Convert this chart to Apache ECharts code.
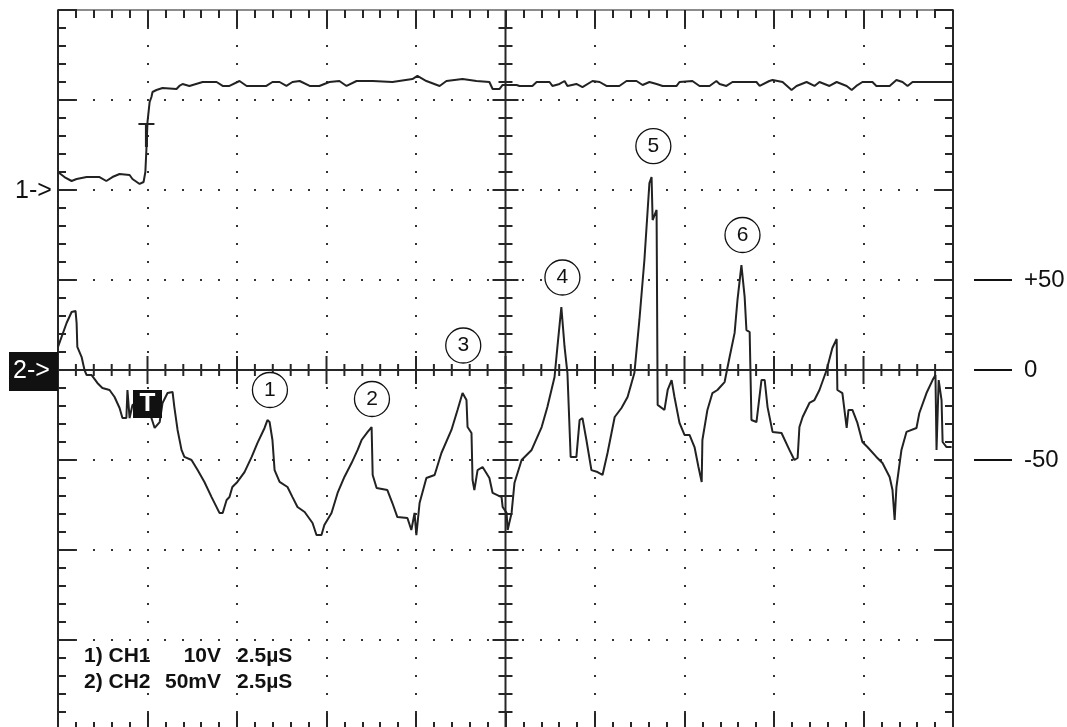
<!DOCTYPE html>
<html><head><meta charset="utf-8">
<script src="https://cdn.jsdelivr.net/npm/echarts@6/dist/echarts.min.js"></script>
<style>html,body{margin:0;padding:0;background:#fff}#c{width:1067px;height:727px}</style>
</head><body><div id="c"></div>
<script>
const FONT = '"Liberation Sans", Arial, Helvetica, sans-serif';

// Time axis (µs): 2.5 µs / div, trigger at t = 0
const timeMin = -2.5, timeMax = 22.5, timeDiv = 2.5;
// Channel 2 (mV): 50 mV / div, zero at screen centre
const ch2Min = -200, ch2Max = 200, ch2Div = 50;
// Channel 1 (V): 10 V / div, reference two divisions above centre
const ch1Min = -60, ch1Max = 20, ch1Div = 10;

// CH1 trace [t µs, V]
const ch1Trace = [[-2.5,2.0],[-2.32,1.44],[-2.12,1.0],[-1.98,1.22],[-1.70,1.44],[-1.34,1.44],[-1.15,1.0],[-0.98,1.44],[-0.78,1.78],[-0.50,1.67],[-0.42,1.22],[-0.22,0.67],[-0.11,0.89],[-0.06,2.0],[-0.03,4.56],[0,7.56],[0.06,9.78],[0.11,10.33],[0.14,10.89],[0.25,11.11],[0.42,11.33],[0.81,11.22],[0.89,11.56],[0.98,11.78],[1.17,11.56],[1.54,12.0],[1.93,12.0],[2.10,11.56],[2.29,11.56],[2.57,12.11],[2.77,11.56],[3.32,11.56],[3.49,12.0],[3.69,12.0],[3.88,11.56],[4.05,12.0],[4.25,12.11],[4.53,11.56],[4.80,11.56],[5.08,12.0],[5.36,12.11],[5.56,11.56],[5.84,12.11],[6.29,12.11],[6.84,12.0],[7.40,12.33],[7.54,12.67],[7.79,12.11],[8.16,11.56],[8.35,12.11],[8.80,12.33],[9.19,12.11],[9.55,12.0],[9.64,11.22],[9.83,11.22],[9.92,11.67],[10.31,11.67],[10.39,11.56],[10.75,11.56],[10.87,12.0],[11.23,12.0],[11.31,11.56],[11.51,11.78],[11.65,12.11],[11.73,11.56],[11.98,11.78],[12.15,11.44],[12.43,12.11],[12.63,12.0],[12.82,11.56],[13.18,11.56],[13.38,12.11],[13.66,12.11],[13.83,11.67],[14.02,12.0],[14.22,11.78],[14.39,11.56],[14.78,11.56],[14.86,12.0],[15.22,12.11],[15.42,11.56],[15.70,11.56],[15.89,12.11],[15.98,11.78],[16.17,11.56],[16.34,12.0],[17.01,12.0],[17.10,11.56],[17.37,12.11],[17.46,12.22],[17.74,12.0],[17.99,11.11],[18.13,11.56],[18.41,12.0],[18.63,11.56],[18.77,12.0],[19.05,11.56],[19.25,12.0],[19.53,11.56],[19.67,11.11],[19.80,11.56],[19.97,12.0],[20.25,12.0],[20.36,11.56],[20.73,11.56],[20.92,12.22],[21.09,12.0],[21.23,11.56],[21.37,12.0],[22.5,12.0]];

// CH2 trace [t µs, mV]
const ch2Trace = [[-2.5,12.8],[-2.26,26.1],[-2.12,32.2],[-2.01,32.8],[-1.98,26.1],[-1.96,12.8],[-1.84,7.2],[-1.76,0],[-1.70,-2.8],[-1.56,-2.8],[-1.40,-7.2],[-1.26,-10.0],[-1.06,-11.1],[-0.92,-15.0],[-0.78,-21.1],[-0.70,-26.7],[-0.59,-26.7],[-0.56,-11.1],[-0.50,-26.7],[-0.42,-19.4],[-0.08,-16.7],[0.11,-26.7],[0.20,-32.2],[0.34,-28.9],[0.42,-18.3],[0.56,-12.8],[0.70,-12.2],[0.75,-20.6],[0.84,-33.3],[0.95,-44.4],[1.03,-48.3],[1.23,-50.0],[1.40,-55.6],[1.59,-62.2],[1.79,-70.6],[2.01,-79.4],[2.10,-79.4],[2.21,-72.2],[2.29,-70.6],[2.37,-65.0],[2.51,-62.2],[2.71,-56.7],[2.91,-48.3],[3.07,-40.6],[3.27,-32.2],[3.35,-27.8],[3.41,-28.9],[3.49,-38.9],[3.55,-55.6],[3.69,-62.2],[3.91,-65.0],[4.05,-70.6],[4.19,-76.1],[4.39,-78.9],[4.61,-85.0],[4.72,-91.7],[4.86,-91.7],[4.94,-86.1],[5.14,-79.4],[5.31,-68.3],[5.50,-59.4],[5.70,-51.7],[5.87,-44.4],[5.98,-38.9],[6.15,-34.4],[6.26,-31.7],[6.29,-58.3],[6.40,-65.6],[6.70,-66.7],[6.84,-73.9],[6.98,-81.7],[7.26,-82.2],[7.37,-88.9],[7.46,-79.4],[7.51,-91.7],[7.60,-73.9],[7.79,-60.0],[8.02,-58.3],[8.21,-46.1],[8.49,-33.3],[8.66,-22.2],[8.80,-12.8],[8.91,-16.7],[8.94,-31.7],[9.05,-35.0],[9.08,-61.1],[9.13,-66.7],[9.22,-55.6],[9.36,-53.9],[9.55,-60.0],[9.64,-68.3],[9.89,-70.6],[9.92,-76.1],[10.03,-79.4],[10.06,-88.9],[10.17,-79.4],[10.25,-62.8],[10.45,-50.0],[10.73,-44.4],[11.01,-31.7],[11.17,-20.6],[11.37,-3.9],[11.45,12.8],[11.56,35.0],[11.65,12.8],[11.73,-1.7],[11.82,-48.3],[11.98,-48.3],[12.07,-27.8],[12.15,-26.7],[12.26,-38.9],[12.40,-55.6],[12.57,-56.7],[12.71,-58.3],[12.85,-46.1],[13.05,-26.1],[13.24,-21.1],[13.41,-15.0],[13.60,-1.7],[13.74,27.8],[13.88,61.1],[14.02,103.9],[14.08,107.2],[14.11,83.3],[14.22,88.9],[14.25,-19.4],[14.44,-22.2],[14.53,-11.1],[14.64,-5.6],[14.72,-15.0],[14.86,-29.4],[15.00,-36.1],[15.14,-36.1],[15.28,-42.8],[15.39,-53.9],[15.48,-62.2],[15.50,-38.9],[15.64,-22.2],[15.78,-12.8],[15.92,-11.1],[16.12,-6.7],[16.26,7.2],[16.40,20.6],[16.48,38.9],[16.59,58.3],[16.68,40.6],[16.73,22.2],[16.82,21.1],[16.87,-27.8],[17.01,-28.9],[17.15,-5.6],[17.24,-5.6],[17.32,-20.6],[17.46,-34.4],[17.71,-35.0],[17.93,-44.4],[18.07,-50.0],[18.16,-48.9],[18.21,-31.7],[18.30,-26.1],[18.49,-18.3],[18.63,-16.7],[18.77,-11.1],[18.97,0],[19.13,12.2],[19.25,17.2],[19.27,-11.1],[19.41,-12.8],[19.53,-32.2],[19.58,-22.2],[19.69,-22.2],[19.83,-29.4],[19.97,-40.0],[20.11,-42.8],[20.36,-48.3],[20.53,-51.7],[20.73,-59.4],[20.81,-66.7],[20.87,-83.3],[20.92,-65.0],[21.06,-44.4],[21.20,-34.4],[21.48,-32.2],[21.56,-23.9],[21.76,-12.8],[21.93,-5.6],[22.01,-2.8],[22.04,-44.4],[22.10,-5.6],[22.18,-16.7],[22.21,-40.0],[22.32,-42.8],[22.46,-42.8]];

// Circled peak annotations (CH2 coordinates)
const peakLabels = ['1','2','3','4','5','6'];
const peakPos = [[3.42,-11.1],[6.27,-16.1],[8.82,13.6],[11.59,51.4],[14.13,124.4],[16.62,75.0]];

// Trigger markers
const ch1Trigger = [-0.03, 7.44];
const ch2Trigger = [0, -18.9];

// Right-hand CH2 scale
const scaleValues = [50, 0, -50];
const scaleLabels = ['+50', '0', '-50'];

// Channel info block
const infoCh = ['1) CH1', '2) CH2'];
const infoVolt = ['10V', '50mV'];
const infoTime = ['2.5µS', '2.5µS'];

const INK = '#262626';

function renderGraticule(params, api) {
  const children = [];
  const sub = 5;
  const nX = Math.round((timeMax - timeMin) / timeDiv);
  const nY = Math.round((ch2Max - ch2Min) / ch2Div);
  const dot = (p) => children.push({type:'rect', silent:true,
    shape:{x:Math.round(p[0]) - 1, y:Math.round(p[1]) - 1, width:2, height:2},
    style:{fill:'#333'}});
  const line = (x1, y1, x2, y2, w) => children.push({type:'line', silent:true,
    shape:{x1, y1, x2, y2}, style:{stroke:INK, lineWidth:w}});
  for (let i = 1; i < nX; i++) {
    if (i * 2 === nX) continue;
    const t = timeMin + i * timeDiv;
    for (let j = 1; j < nY * sub; j++) dot(api.coord([t, ch2Min + j * ch2Div / sub]));
  }
  for (let j = 1; j < nY; j++) {
    if (j * 2 === nY) continue;
    const v = ch2Min + j * ch2Div;
    for (let i = 1; i < nX * sub; i++) dot(api.coord([timeMin + i * timeDiv / sub, v]));
  }
  const tc = (timeMin + timeMax) / 2;
  const c = api.coord([tc, 0]);
  const top = api.coord([tc, ch2Max])[1], bottom = api.coord([tc, ch2Min])[1];
  const left = api.coord([timeMin, 0])[0], right = api.coord([timeMax, 0])[0];
  line(c[0], top, c[0], bottom, 2);
  line(left, c[1], right, c[1], 2);
  for (let j = 1; j < nY * sub; j++) {
    const y = api.coord([tc, ch2Min + j * ch2Div / sub])[1];
    const h = (j % sub === 0) ? 13 : 7;
    line(c[0] - h, y, c[0] + h, y, 2);
  }
  for (let i = 1; i < nX * sub; i++) {
    const x = api.coord([timeMin + i * timeDiv / sub, 0])[0];
    const h = (i % sub === 0) ? 14 : 6;
    line(x, c[1] - h, x, c[1] + h, 2);
  }
  return {type:'group', children};
}

function borderAxis(extra) {
  return Object.assign({
    type:'value',
    axisLine:{show:true, onZero:false, lineStyle:{color:INK, width:2}},
    axisTick:{show:true, inside:true, length:19, lineStyle:{color:INK, width:2}},
    minorTick:{show:true, splitNumber:5, length:8, lineStyle:{color:INK, width:2}},
    axisLabel:{show:false},
    splitLine:{show:false},
    minorSplitLine:{show:false}
  }, extra);
}

const option = {
  animation:false,
  backgroundColor:'#ffffff',
  grid:{left:58, top:10, width:895, height:720, outerBoundsMode:'none', containLabel:false},
  xAxis:[
    borderAxis({min:timeMin, max:timeMax, interval:timeDiv, position:'bottom'}),
    borderAxis({min:timeMin, max:timeMax, interval:timeDiv, position:'top',
      axisLine:{show:true, onZero:false, lineStyle:{color:'#8c8c8c', width:2}}})
  ],
  yAxis:[
    borderAxis({min:ch2Min, max:ch2Max, interval:ch2Div, position:'left'}),
    borderAxis({min:ch1Min, max:ch1Max, interval:ch1Div, position:'right'}),
    {
      type:'value', min:ch2Min, max:ch2Max, position:'right', offset:21,
      axisLine:{show:false, onZero:false},
      axisTick:{show:true, inside:false, length:38, customValues:scaleValues, lineStyle:{color:'#111', width:2}},
      minorTick:{show:false},
      axisLabel:{show:true, customValues:scaleValues, margin:50, color:'#111',
        fontSize:24, fontFamily:FONT, align:'left',
        formatter:(v) => scaleLabels[scaleValues.indexOf(v)]},
      splitLine:{show:false}
    }
  ],
  series:[
    {type:'custom', name:'graticule', xAxisIndex:0, yAxisIndex:0, data:[[0,0]],
      renderItem:renderGraticule, silent:true, clip:false, z:1},
    {type:'line', name:'CH1', xAxisIndex:0, yAxisIndex:1, data:ch1Trace, symbol:'none',
      silent:true, z:3, lineStyle:{color:'#222', width:2}},
    {type:'line', name:'CH2', xAxisIndex:0, yAxisIndex:0, data:ch2Trace, symbol:'none',
      silent:true, z:3, lineStyle:{color:'#222', width:2}},
    {type:'scatter', name:'peaks', xAxisIndex:0, yAxisIndex:0, data:peakPos, symbol:'circle',
      symbolSize:35, silent:true, z:5,
      itemStyle:{color:'#ffffff', borderColor:'#111', borderWidth:1.3, opacity:1},
      label:{show:true, position:'inside', color:'#111', fontSize:21, fontFamily:FONT,
        formatter:(p) => peakLabels[p.dataIndex]}},
    {type:'scatter', name:'ch1 trigger', xAxisIndex:0, yAxisIndex:1, data:[ch1Trigger],
      symbol:'path://M0,0L16,0L16,2L9.5,2L9.5,24L6.5,24L6.5,2L0,2Z', symbolKeepAspect:false,
      symbolSize:[16,24], symbolOffset:[0,12], silent:true, z:6,
      itemStyle:{color:'#222', opacity:1}},
    {type:'scatter', name:'ch2 trigger', xAxisIndex:0, yAxisIndex:0, data:[ch2Trigger],
      symbol:'rect', symbolSize:[29,28], silent:true, z:6,
      itemStyle:{color:'#111', opacity:1},
      label:{show:true, position:'inside', formatter:'T', color:'#fff', fontSize:26,
        fontWeight:'bold', fontFamily:FONT}}
  ],
  graphic:[
    {type:'text', x:15, y:191, z:10, silent:true,
      style:{text:'1->', font:'25px ' + FONT, fill:'#111', verticalAlign:'middle', align:'left'}},
    {type:'rect', x:9, y:352, z:10, silent:true, shape:{width:49, height:39}, style:{fill:'#111'}},
    {type:'text', x:13, y:371.5, z:11, silent:true,
      style:{text:'2->', font:'25px ' + FONT, fill:'#fff', verticalAlign:'middle', align:'left'}},
  ].concat(infoCh.map((s, i) => ({type:'text', x:84, y:656 + i * 26, z:10, silent:true,
      style:{text:s, font:'bold 21px ' + FONT, fill:'#111', verticalAlign:'middle', align:'left'}})))
   .concat(infoVolt.map((s, i) => ({type:'text', x:221, y:656 + i * 26, z:10, silent:true,
      style:{text:s, font:'bold 21px ' + FONT, fill:'#111', verticalAlign:'middle', align:'right'}})))
   .concat(infoTime.map((s, i) => ({type:'text', x:237, y:656 + i * 26, z:10, silent:true,
      style:{text:s, font:'bold 21px ' + FONT, fill:'#111', verticalAlign:'middle', align:'left'}})))
};

const chart = echarts.init(document.getElementById('c'), null, {renderer:'canvas', width:1067, height:727});
chart.setOption(option);
</script>
</body></html>
